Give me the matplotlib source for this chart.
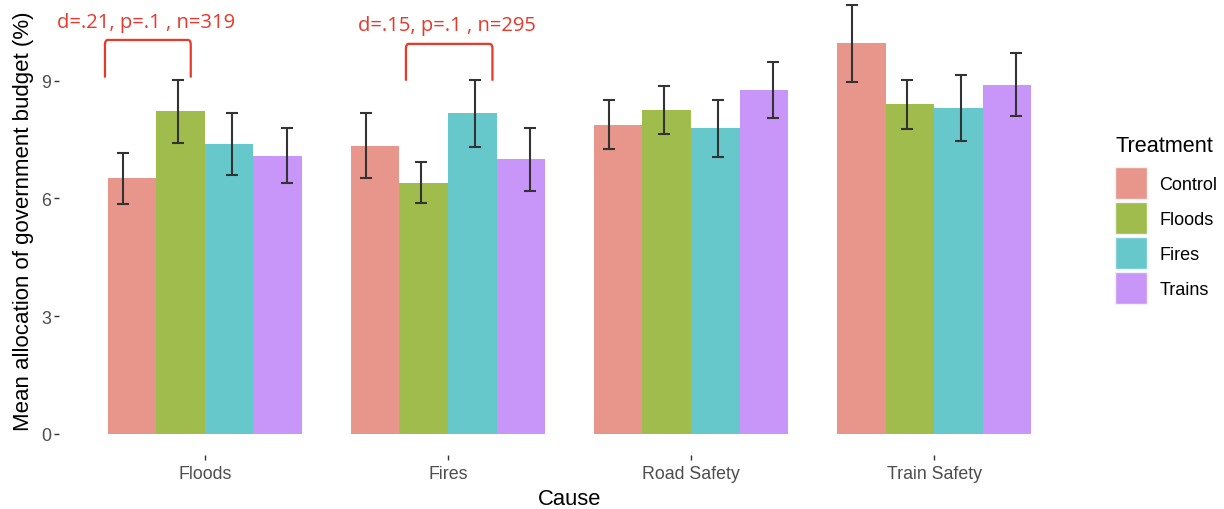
import numpy as np
import matplotlib.pyplot as plt
from matplotlib.patches import Patch
from matplotlib.path import Path
from matplotlib.patches import PathPatch

# ------------------------------------------------------------------ #
# datos
causas = ['Floods', 'Fires', 'Road Safety', 'Train Safety']
tratamientos = ['Control', 'Floods', 'Fires', 'Trains']

media_control = [6.51, 7.34, 7.88, 9.95]
media_floods = [8.22, 6.40, 8.25, 8.40]
media_fires = [7.39, 8.17, 7.79, 8.30]
media_trains = [7.09, 7.00, 8.76, 8.90]

err_control = [0.66, 0.83, 0.62, 0.97]
err_floods = [0.81, 0.52, 0.62, 0.63]
err_fires = [0.79, 0.85, 0.73, 0.84]
err_trains = [0.70, 0.80, 0.72, 0.81]

# anotaciones: texto, indice de causa
anot_texto = ['d=.21, p=.1 , n=319', 'd=.15, p=.1 , n=295']
anot_causa = [0, 1]

colores = ['#E8968B', '#A0BC4D', '#67C8CC', '#C896F9']
rojo = '#E8382B'
# ------------------------------------------------------------------ #

plt.rcParams['font.family'] = ['Liberation Sans', 'DejaVu Sans']

medias = [media_control, media_floods, media_fires, media_trains]
errores = [err_control, err_floods, err_fires, err_trains]

fig = plt.figure(figsize=(12.24, 5.10), dpi=100)
ax = fig.add_axes([59 / 1224, 54 / 510, 1021 / 1224, 456 / 510])

x = np.arange(1, len(causas) + 1)
ancho = 0.2
for i in range(len(tratamientos)):
    pos = x + (i - 1.5) * ancho
    ax.bar(pos, medias[i], width=ancho, color=colores[i], label=tratamientos[i],
           edgecolor='none')
    # las barras de error van con otro dodge (0.9) como en ggplot
    pos_err = x + (i - 1.5) * 0.225
    ax.errorbar(pos_err, medias[i], yerr=errores[i], fmt='none', ecolor='#333333',
                elinewidth=1.5, capsize=4.3, capthick=1.5)

ax.set_xlim(0.4, 4.6)
ax.set_ylim(-0.543, 11.084)
ax.set_xticks(x)
ax.set_xticklabels(causas, color='#4D4D4D', fontsize=12.8)
ax.set_yticks([0, 3, 6, 9])
ax.set_yticklabels(['0', '3', '6', '9'], color='#4D4D4D', fontsize=12.8)
ax.tick_params(axis='both', length=3.5, color='#333333', width=1)
ax.tick_params(axis='y', pad=2)
ax.tick_params(axis='x', pad=3.5)
for s in ax.spines.values():
    s.set_visible(False)

ax.set_xlabel('Cause', fontsize=15.8, labelpad=4.5)
ax.set_ylabel('Mean allocation of government budget (%)', fontsize=16)
ax.yaxis.set_label_coords(-0.0245, 0.515)

# ------------------------------------------------------------------ #
# corchetes rojos con el tamano de efecto
brackets = [(-0.411, -0.058, 10.04, 9.08, -0.243, 10.50),
            (-0.173, 0.183, 9.94, 9.0, -0.003, 10.42)]
for k in range(len(anot_texto)):
    c = x[anot_causa[k]]
    x0, x1, ytop, ybot, xt, yt = brackets[k]
    x0, x1, xt = c + x0, c + x1, c + xt
    rx, ry = 0.012, 0.12
    verts = [(x0, ybot), (x0, ytop - ry), (x0, ytop), (x0 + rx, ytop),
             (x1 - rx, ytop), (x1, ytop), (x1, ytop - ry), (x1, ybot)]
    codes = [Path.MOVETO, Path.LINETO, Path.CURVE3, Path.CURVE3,
             Path.LINETO, Path.CURVE3, Path.CURVE3, Path.LINETO]
    ax.add_patch(PathPatch(Path(verts, codes), fill=False, edgecolor=rojo,
                           linewidth=1.6, clip_on=False))
    ax.text(xt, yt, anot_texto[k], color=rojo, fontsize=14.5, ha='center', va='center',
            family=['Open Sans', 'DejaVu Sans'])

# ------------------------------------------------------------------ #
handles = [Patch(facecolor=colores[i], edgecolor='#F2F2F2', linewidth=1)
           for i in range(len(tratamientos))]
leg = ax.legend(handles, tratamientos, loc='upper left',
                bbox_to_anchor=(1115 / 1224, 342 / 510), bbox_transform=fig.transFigure,
                frameon=False, fontsize=13, borderpad=0,
                handlelength=1.77, handleheight=2.35, labelspacing=0.17,
                handletextpad=0.7, borderaxespad=0)
fig.text(1115 / 1224, (510 - 146) / 510, 'Treatment', fontsize=15.6,
         ha='left', va='center')

fig.savefig('out.png', dpi=100)
